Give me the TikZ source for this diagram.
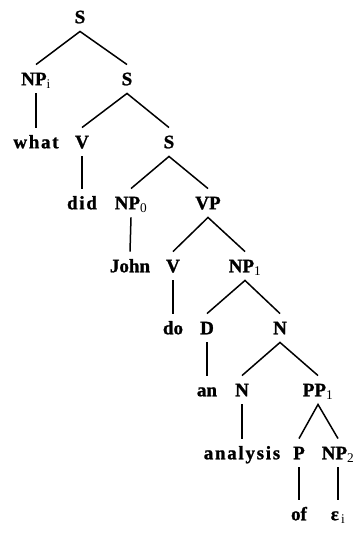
\documentclass[tikz,border=0pt]{standalone}
\usepackage{fontspec}
\setmainfont{Liberation Serif}[BoldFeatures={FakeBold=1.2}]

\begin{document}
\begin{tikzpicture}[x=1pt, y=-1pt,
    cat/.style={font=\fontsize{19}{21}\selectfont\bfseries, text height=12.5pt, text depth=0pt, inner xsep=1pt, inner ysep=8pt},
    spread/.style={cat, font=\fontsize{19}{21}\selectfont\bfseries\addfontfeature{LetterSpace=9}},
    branch/.style={line width=1.5pt}]
            \useasboundingbox (0,0) rectangle (353,534);

            \node[cat] (S0) at (80,17) {S};

            \node[cat] (NPi) at (36,79) {NP\textsubscript{\mdseries i}};
            \node[cat] (S1) at (127,79) {S};

            \node[spread] (what) at (36,142) {what};
            \node[cat] (V1) at (82,142) {V};
            \node[cat] (S2) at (169,142) {S};

            \node[spread] (did) at (82,203) {did};
            \node[cat] (NP0) at (131,203) {NP\textsubscript{\mdseries 0}};
            \node[cat] (VP) at (208,203) {VP};

            \node[cat] (John) at (130,266) {John};
            \node[cat] (V2) at (173,266) {V};
            \node[cat] (NP1) at (245,266) {NP\textsubscript{\mdseries 1}};

            \node[cat] (do) at (173,328) {do};
            \node[cat] (D) at (207,328) {D};
            \node[cat] (N1) at (280,328) {N};

            \node[cat] (an) at (207,390) {an};
            \node[cat] (N2) at (242,390) {N};
            \node[cat] (PP1) at (318,390) {PP\textsubscript{\mdseries 1}};

            \node[spread] (analysis) at (242,453) {analysis};
            \node[cat] (P) at (299,453) {P};
            \node[cat] (NP2) at (338,453) {NP\textsubscript{\mdseries 2}};

            \node[cat] (of) at (299,514) {of};
            \node[cat] (eps) at (338,514) {ε\textsubscript{\mdseries\,i}};

            \draw[branch] (NPi.north) -- (S0.south) -- (S1.north);
            \draw[branch] (NPi.south) -- (what.north);
            \draw[branch] (V1.north) -- (S1.south) -- (S2.north);
            \draw[branch] (V1.south) -- (did.north);
            \draw[branch] (NP0.north) -- (S2.south) -- (VP.north);
            \draw[branch] (NP0.south) -- (John.north);
            \draw[branch] (V2.north) -- (VP.south) -- (NP1.north);
            \draw[branch] (V2.south) -- (do.north);
            \draw[branch] (D.north) -- (NP1.south) -- (N1.north);
            \draw[branch] (D.south) -- (an.north);
            \draw[branch] (N2.north) -- (N1.south) -- (PP1.north);
            \draw[branch] (N2.south) -- (analysis.north);
            \draw[branch] (P.north) -- (PP1.south) -- (NP2.north);
            \draw[branch] (P.south) -- (of.north);
            \draw[branch] (NP2.south) -- (eps.north);
        \end{tikzpicture}
\end{document}
